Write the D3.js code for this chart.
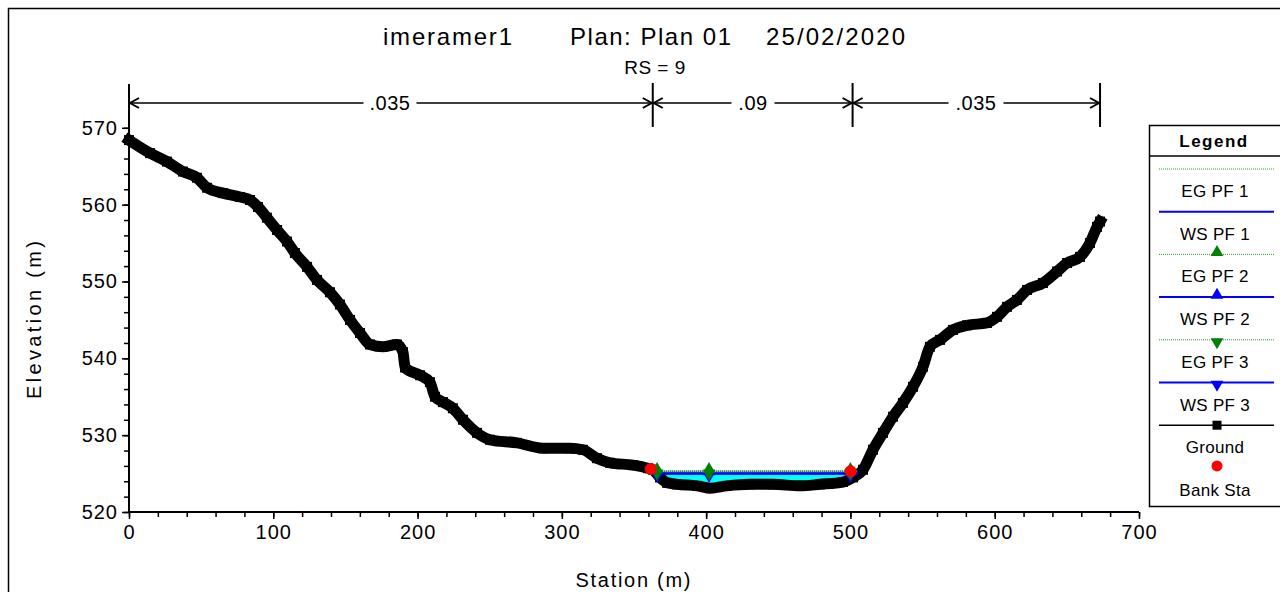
<!DOCTYPE html>
<html>
<head>
<meta charset="utf-8">
<script src="https://cdn.jsdelivr.net/npm/d3@7"></script>
<style>
  body { margin: 0; background: #fff; }
  text { font-family: "Liberation Sans", Arial, sans-serif; fill: #000; }
</style>
</head>
<body>
<div class="myBox"></div>
<script>
var width = 1280;
var height = 592;

// ground profile (station m, elevation m)
var groundSta = [0, 14.6, 26.3, 37.4, 47.1, 54.1, 65.1, 76.9, 83.9, 89.4, 95.6, 102.6, 109.5, 115.0, 123.4,
  130.3, 139.3, 146.2, 153.2, 160.1, 167.0, 176.0, 185.7, 189.9, 191.3, 201.7, 208.6, 212.1, 217.6, 224.5,
  231.5, 241.2, 250.2, 268.9, 286.9, 305.6, 314.6, 324.3, 333.4, 349.3, 359.7, 363.2, 368.0, 372.9, 379.8,
  393.7, 402.7, 414.4, 430.4, 446.3, 465.0, 478.9, 494.8, 501.8, 508.7, 515.6, 522.6, 529.5, 536.4, 543.4,
  550.3, 555.1, 562.1, 571.1, 580.8, 594.6, 601.6, 608.5, 615.4, 622.4, 633.4, 643.2, 650.1, 659.1, 666.0,
  670.9, 673.0];
var groundElev = [568.4, 566.7, 565.6, 564.3, 563.5, 562.2, 561.5, 561.0, 560.6, 559.7, 558.3, 556.7, 555.2, 553.7, 551.9,
  550.2, 548.6, 547.0, 545.0, 543.3, 541.8, 541.5, 541.8, 540.8, 538.8, 537.8, 536.9, 535.0, 534.3, 533.5,
  532.0, 530.3, 529.4, 529.0, 528.3, 528.3, 528.1, 527.0, 526.4, 526.1, 525.7, 525.5, 524.5, 523.8, 523.6,
  523.4, 523.1, 523.4, 523.6, 523.6, 523.4, 523.6, 523.9, 524.5, 525.5, 528.1, 530.3, 532.4, 534.2, 536.3,
  538.9, 541.5, 542.4, 543.7, 544.3, 544.6, 545.4, 546.7, 547.6, 548.9, 549.8, 551.3, 552.4, 553.2, 555.0,
  557.1, 557.8];

var bankSta = [363, 501.5];
var bankElev = [525.6, 525.3];
var nValues = [".035", ".09", ".035"];

// water surface / energy grade for the three profiles
var wsElev = [525.0, 525.0, 525.0];
var egElev = [525.3, 525.3, 525.3];
var profileMarkSta = [366, 402, 500];

var xTicks = [0, 100, 200, 300, 400, 500, 600, 700];
var yTicks = [520, 530, 540, 550, 560, 570];
var xMinor = [0, 20, 40, 60, 80, 100, 120, 140, 160, 180, 200, 220, 240, 260, 280, 300, 320, 340, 360, 380, 400,
  420, 440, 460, 480, 500, 520, 540, 560, 580, 600, 620, 640, 660, 680, 700];
var yMinor = [520, 522, 524, 526, 528, 530, 532, 534, 536, 538, 540, 542, 544, 546, 548, 550, 552, 554, 556, 558,
  560, 562, 564, 566, 568, 570];

var legendNames = ["EG PF 1", "WS PF 1", "EG PF 2", "WS PF 2", "EG PF 3", "WS PF 3", "Ground", "Bank Sta"];

var ground = groundSta.map(function(s, i) { return {s: s, e: groundElev[i]}; });

var svg = d3.select(".myBox")
  .append("svg")
  .attr("width", width)
  .attr("height", height);

svg.append("rect")
  .attr("x", 8.5).attr("y", 8.5)
  .attr("width", 1300).attr("height", 620)
  .attr("fill", "none").attr("stroke", "#000").attr("stroke-width", 1.5);

var x = d3.scaleLinear().domain([0, 700]).range([129, 1139]);
var y = d3.scaleLinear().domain([520, 575.7]).range([512, 84]);

// title
var titleParts = [["imeramer1", 383, 129], ["Plan: Plan 01", 570, 161], ["25/02/2020", 766, 139]];
titleParts.forEach(function(t) {
  svg.append("text")
    .attr("x", t[1]).attr("y", 45)
    .attr("font-size", 24)
    .attr("textLength", t[2]).attr("lengthAdjust", "spacing")
    .text(t[0]);
});
svg.append("text")
  .attr("x", 655).attr("y", 74)
  .attr("text-anchor", "middle")
  .attr("font-size", 19)
  .attr("letter-spacing", 0.5)
  .text("RS = 9");

// interpolate ground elevation at a station
function groundAt(s) {
  for (var i = 1; i < ground.length; i++) {
    if (ground[i].s >= s) {
      var a = ground[i - 1], b = ground[i];
      return a.e + (b.e - a.e) * (s - a.s) / (b.s - a.s);
    }
  }
  return ground[ground.length - 1].e;
}

// find where water surface meets the ground
function edgeSta(ws, from, step) {
  var s = from;
  while (groundAt(s) < ws) s += step;
  return s;
}
var ws = wsElev[0];
var leftEdge = edgeSta(ws, 400, -0.2);
var rightEdge = edgeSta(ws, 400, 0.2);

var waterPts = [{s: leftEdge, e: ws}]
  .concat(ground.filter(function(d) { return d.s > leftEdge && d.s < rightEdge; }))
  .concat([{s: rightEdge, e: ws}]);

svg.append("path")
  .datum(waterPts)
  .attr("fill", "#00ffff")
  .attr("d", d3.area()
    .x(function(d) { return x(d.s); })
    .y0(function(d) { return y(d.e); })
    .y1(y(ws)));

// ground
svg.append("path")
  .datum(ground)
  .attr("fill", "none")
  .attr("stroke", "#000")
  .attr("stroke-width", 11)
  .attr("stroke-linejoin", "round")
  .attr("stroke-linecap", "square")
  .attr("d", d3.line().curve(d3.curveMonotoneX).x(function(d) { return x(d.s); }).y(function(d) { return y(d.e); }));

svg.append("g").selectAll("rect")
  .data(ground)
  .enter().append("rect")
    .attr("x", function(d) { return x(d.s) - 5; })
    .attr("y", function(d) { return y(d.e) - 5; })
    .attr("width", 10).attr("height", 10)
    .attr("fill", "#000");

// WS and EG lines
for (var p = 0; p < 3; p++) {
  svg.append("line")
    .attr("x1", x(leftEdge)).attr("x2", x(rightEdge))
    .attr("y1", y(wsElev[p])).attr("y2", y(wsElev[p]))
    .attr("stroke", "#0000ff").attr("stroke-width", 2);
  svg.append("line")
    .attr("x1", x(leftEdge)).attr("x2", x(rightEdge))
    .attr("y1", y(egElev[p])).attr("y2", y(egElev[p]))
    .attr("stroke", "#2e9a2e").attr("stroke-width", 1.5)
    .attr("stroke-dasharray", "1,1");
}

var triUp = d3.symbol().type(d3.symbolTriangle).size(70);

function markers(elev, color, up) {
  svg.append("g").selectAll("path")
    .data(profileMarkSta)
    .enter().append("path")
      .attr("d", triUp)
      .attr("fill", color)
      .attr("transform", function(d) { return "translate(" + x(d) + "," + (y(elev) + (up ? -2 : 2)) + ")" + (up ? "" : " rotate(180)"); });
}
markers(wsElev[1], "#0000ff", true);
markers(wsElev[2], "#0000ff", false);
markers(egElev[1], "#008000", true);
markers(egElev[2], "#008000", false);

// bank stations
svg.append("g").selectAll("circle")
  .data(bankSta)
  .enter().append("circle")
    .attr("cx", function(d) { return x(d) - 2; })
    .attr("cy", function(d, i) { return y(bankElev[i]); })
    .attr("r", 6)
    .attr("fill", "#ff0000");

// Manning's n arrows
var nBounds = [0].concat(bankSta).concat([groundSta[groundSta.length - 1]]);
var nY = 103;
var nLabelX = [390, 753, 976];
var nLabelW = [45, 35, 47];
nBounds.forEach(function(s, i) {
  if (i === 0) return;
  svg.append("line")
    .attr("x1", x(s)).attr("x2", x(s))
    .attr("y1", 83).attr("y2", 127)
    .attr("stroke", "#000").attr("stroke-width", 2);
});
for (var k = 0; k < nValues.length; k++) {
  var x0 = x(nBounds[k]), x1 = x(nBounds[k + 1]);
  var lx = nLabelX[k], hw = nLabelW[k] / 2 + 4;
  svg.append("line").attr("x1", x0 + 1).attr("x2", lx - hw).attr("y1", nY).attr("y2", nY)
    .attr("stroke", "#000").attr("stroke-width", 1.5);
  svg.append("line").attr("x1", lx + hw).attr("x2", x1 - 1).attr("y1", nY).attr("y2", nY)
    .attr("stroke", "#000").attr("stroke-width", 1.5);
  svg.append("path")
    .attr("d", "M" + (x0 + 10) + "," + (nY - 5) + "L" + (x0 + 1) + "," + nY + "L" + (x0 + 10) + "," + (nY + 5))
    .attr("fill", "none").attr("stroke", "#000").attr("stroke-width", 2);
  svg.append("path")
    .attr("d", "M" + (x1 - 10) + "," + (nY - 5) + "L" + (x1 - 1) + "," + nY + "L" + (x1 - 10) + "," + (nY + 5))
    .attr("fill", "none").attr("stroke", "#000").attr("stroke-width", 2);
  svg.append("text")
    .attr("x", lx).attr("y", nY + 7)
    .attr("text-anchor", "middle")
    .attr("font-size", 20)
    .attr("letter-spacing", 0.5)
    .text(nValues[k]);
}

// axes
var xAxis = svg.append("g").attr("transform", "translate(0,512)")
  .call(d3.axisBottom(x).tickValues(xTicks).tickSize(7).tickPadding(6).tickFormat(d3.format("d")));
svg.append("g").attr("transform", "translate(0,512)")
  .call(d3.axisBottom(x).tickValues(xMinor).tickSize(5).tickFormat(""))
  .select(".domain").remove();
var yAxis = svg.append("g").attr("transform", "translate(129,0)")
  .call(d3.axisLeft(y).tickValues(yTicks).tickSize(7).tickPadding(4).tickFormat(d3.format("d")));
svg.append("g").attr("transform", "translate(129,0)")
  .call(d3.axisLeft(y).tickValues(yMinor).tickSize(5).tickFormat(""))
  .select(".domain").remove();

svg.selectAll(".domain").attr("stroke-width", 2);
svg.selectAll(".tick line").attr("stroke-width", 1.5);
svg.selectAll(".tick text")
  .attr("font-family", "'Liberation Sans', Arial, sans-serif")
  .attr("font-size", 20)
  .attr("letter-spacing", 1);
xAxis.selectAll("path.domain").attr("d", "M129,0H1139");
yAxis.selectAll("path.domain").attr("d", "M0,512V84");

svg.append("text")
  .attr("x", 633).attr("y", 587)
  .attr("text-anchor", "middle")
  .attr("font-size", 20)
  .attr("textLength", 115).attr("lengthAdjust", "spacing")
  .text("Station (m)");
svg.append("text")
  .attr("transform", "translate(41,320) rotate(-90)")
  .attr("text-anchor", "middle")
  .attr("font-size", 20)
  .attr("textLength", 158).attr("lengthAdjust", "spacing")
  .text("Elevation (m)");

// legend
var lg = svg.append("g");
lg.append("rect")
  .attr("x", 1149.5).attr("y", 125.5)
  .attr("width", 160).attr("height", 381)
  .attr("fill", "#fff").attr("stroke", "#000").attr("stroke-width", 1.5);
lg.append("line").attr("x1", 1149).attr("x2", 1290).attr("y1", 156).attr("y2", 156)
  .attr("stroke", "#000").attr("stroke-width", 1.5);
lg.append("text")
  .attr("x", 1214).attr("y", 147)
  .attr("text-anchor", "middle")
  .attr("font-size", 17).attr("font-weight", "bold")
  .attr("letter-spacing", 1.5)
  .text("Legend");

var legY0 = 169, legStep = 42.7, lx0 = 1159, lx1 = 1274, lcx = 1217;
legendNames.forEach(function(name, i) {
  var ly = legY0 + i * legStep;
  if (i < 6) {
    var isWS = i % 2 === 1;
    lg.append("line")
      .attr("x1", lx0).attr("x2", lx1).attr("y1", ly).attr("y2", ly)
      .attr("stroke", isWS ? "#0000ff" : "#2e9a2e")
      .attr("stroke-width", isWS ? 2 : 1)
      .attr("stroke-dasharray", isWS ? null : "1,1");
    if (i >= 2) {
      var up = i < 4;
      lg.append("path")
        .attr("d", triUp)
        .attr("fill", isWS ? "#0000ff" : "#008000")
        .attr("transform", "translate(" + lcx + "," + (ly + (up ? -2 : 2)) + ")" + (up ? "" : " rotate(180)"));
    }
  } else if (i === 6) {
    lg.append("line")
      .attr("x1", lx0).attr("x2", lx1).attr("y1", ly).attr("y2", ly)
      .attr("stroke", "#000").attr("stroke-width", 1.5);
    lg.append("rect")
      .attr("x", lcx - 4.5).attr("y", ly - 4.5).attr("width", 9).attr("height", 9)
      .attr("fill", "#000");
  } else {
    lg.append("circle")
      .attr("cx", lcx).attr("cy", ly - 2).attr("r", 5.5)
      .attr("fill", "#ff0000");
  }
  lg.append("text")
    .attr("x", lcx - 2).attr("y", ly + 28)
    .attr("text-anchor", "middle")
    .attr("font-size", 17)
    .attr("letter-spacing", 0.3)
    .text(name);
});
</script>
</body>
</html>
